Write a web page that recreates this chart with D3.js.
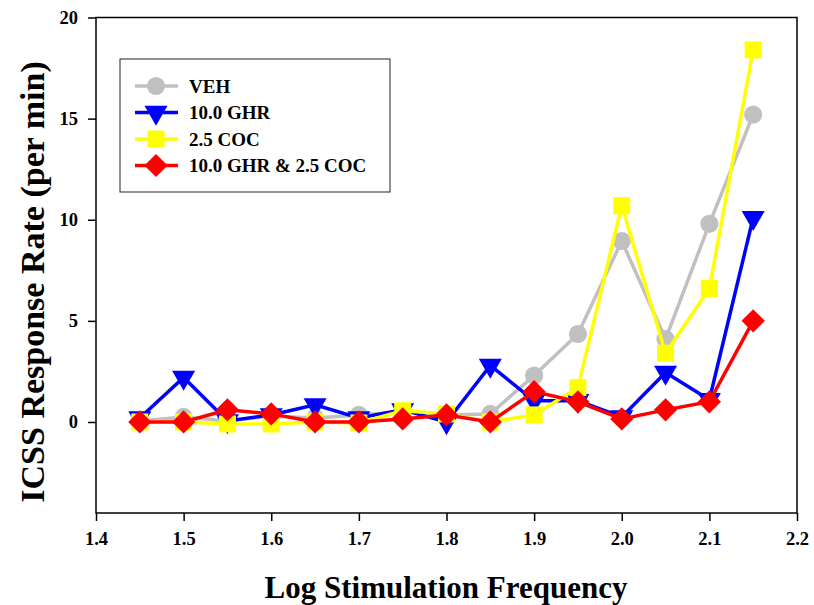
<!doctype html>
<html>
<head>
<meta charset="utf-8">
<style>
  body { margin: 0; background: #fff; }
  text { font-family: "Liberation Serif", "Times New Roman", serif; font-weight: bold; }
</style>
</head>
<body>
<svg id="chart" width="814" height="605"></svg>
<script src="https://d3js.org/d3.v7.min.js"></script>
<script>
  const freq = [1.45, 1.5, 1.55, 1.6, 1.65, 1.7, 1.75, 1.8, 1.85, 1.9, 1.95, 2.0, 2.05, 2.1, 2.15];
  const veh = [0.05, 0.25, 0.05, 0.3, 0.2, 0.35, 0.5, 0.35, 0.4, 2.3, 4.35, 8.95, 4.1, 9.8, 15.2];
  const ghr = [0.2, 2.2, 0.05, 0.35, 0.85, 0.2, 0.6, 0, 2.8, 1.05, 1.05, 0.25, 2.45, 1.1, 10.1];
  const coc = [0, 0, -0.1, -0.1, 0, -0.05, 0.55, 0.4, 0, 0.35, 1.7, 10.7, 3.4, 6.6, 18.4];
  const combo = [0, 0, 0.6, 0.4, 0, 0, 0.15, 0.35, 0, 1.5, 1.0, 0.15, 0.6, 1.0, 5.0];

  const xTicks = [1.4, 1.5, 1.6, 1.7, 1.8, 1.9, 2.0, 2.1, 2.2];
  const yTicks = [0, 5, 10, 15, 20];

  const series = [
    { name: 'VEH', values: veh, color: '#c0c0c0', symbol: d3.symbolCircle, size: 260, rot: 0 },
    { name: '10.0 GHR', values: ghr, color: '#0000ff', symbol: d3.symbolTriangle, size: 230, rot: 180 },
    { name: '2.5 COC', values: coc, color: '#ffff00', symbol: d3.symbolSquare, size: 290, rot: 0 },
    { name: '10.0 GHR & 2.5 COC', values: combo, color: '#ff0000', symbol: d3.symbolSquare, size: 270, rot: 45 }
  ];

  const svg = d3.select('#chart');
  const plotLeft = 96, plotRight = 797, plotTop = 17.5, plotBottom = 513;

  const x = d3.scaleLinear().domain([1.4, 2.2]).range([plotLeft, plotRight]);
  const y = d3.scaleLinear().domain([-4.5, 20]).range([plotBottom, plotTop]);

  // frame
  svg.append('rect')
    .attr('x', plotLeft).attr('y', plotTop)
    .attr('width', plotRight - plotLeft).attr('height', plotBottom - plotTop)
    .attr('fill', 'none').attr('stroke', '#000').attr('stroke-width', 1.5);

  const xAxis = svg.append('g')
    .attr('transform', `translate(0,${plotBottom})`)
    .call(d3.axisBottom(x).tickValues(xTicks).tickFormat(d3.format('.1f')).tickSize(8).tickPadding(11));
  const yAxis = svg.append('g')
    .attr('transform', `translate(${plotLeft},0)`)
    .call(d3.axisLeft(y).tickValues(yTicks).tickSize(8).tickPadding(10));

  [xAxis, yAxis].forEach(g => {
    g.select('.domain').remove();
    g.selectAll('line').attr('stroke', '#000').attr('stroke-width', 1.5);
    g.selectAll('text').attr('font-size', 18.5).attr('fill', '#000')
      .attr('font-family', '"Liberation Serif", serif').attr('font-weight', 'bold');
  });

  svg.append('text')
    .attr('x', 446).attr('y', 598)
    .attr('text-anchor', 'middle').attr('font-size', 31)
    .text('Log Stimulation Frequency');
  svg.append('text')
    .attr('transform', `translate(44,282) rotate(-90)`)
    .attr('text-anchor', 'middle').attr('font-size', 34)
    .text('ICSS Response Rate (per min)');

  const line = d3.line().x((d, i) => x(freq[i])).y(d => y(d));

  series.forEach(s => {
    const g = svg.append('g');
    g.append('path')
      .datum(s.values)
      .attr('d', line)
      .attr('fill', 'none').attr('stroke', s.color).attr('stroke-width', 3.5);
    g.selectAll('path.pt')
      .data(s.values)
      .join('path')
      .attr('class', 'pt')
      .attr('d', d3.symbol().type(s.symbol).size(s.size))
      .attr('transform', (d, i) => `translate(${x(freq[i])},${y(d)}) rotate(${s.rot})`)
      .attr('fill', s.color);
  });

  // legend
  const legend = svg.append('g');
  legend.append('rect')
    .attr('x', 120).attr('y', 59).attr('width', 270).attr('height', 133)
    .attr('fill', '#fff').attr('stroke', '#222').attr('stroke-width', 1);
  series.forEach((s, i) => {
    const ly = 86 + i * 26.5;
    legend.append('line')
      .attr('x1', 135).attr('x2', 178).attr('y1', ly).attr('y2', ly)
      .attr('stroke', s.color).attr('stroke-width', 3.5);
    legend.append('path')
      .attr('d', d3.symbol().type(s.symbol).size(s.size))
      .attr('transform', `translate(156,${ly}) rotate(${s.rot})`)
      .attr('fill', s.color);
    legend.append('text')
      .attr('x', 189).attr('y', ly + 6.5)
      .attr('font-size', 19)
      .text(s.name);
  });
</script>
</body>
</html>
